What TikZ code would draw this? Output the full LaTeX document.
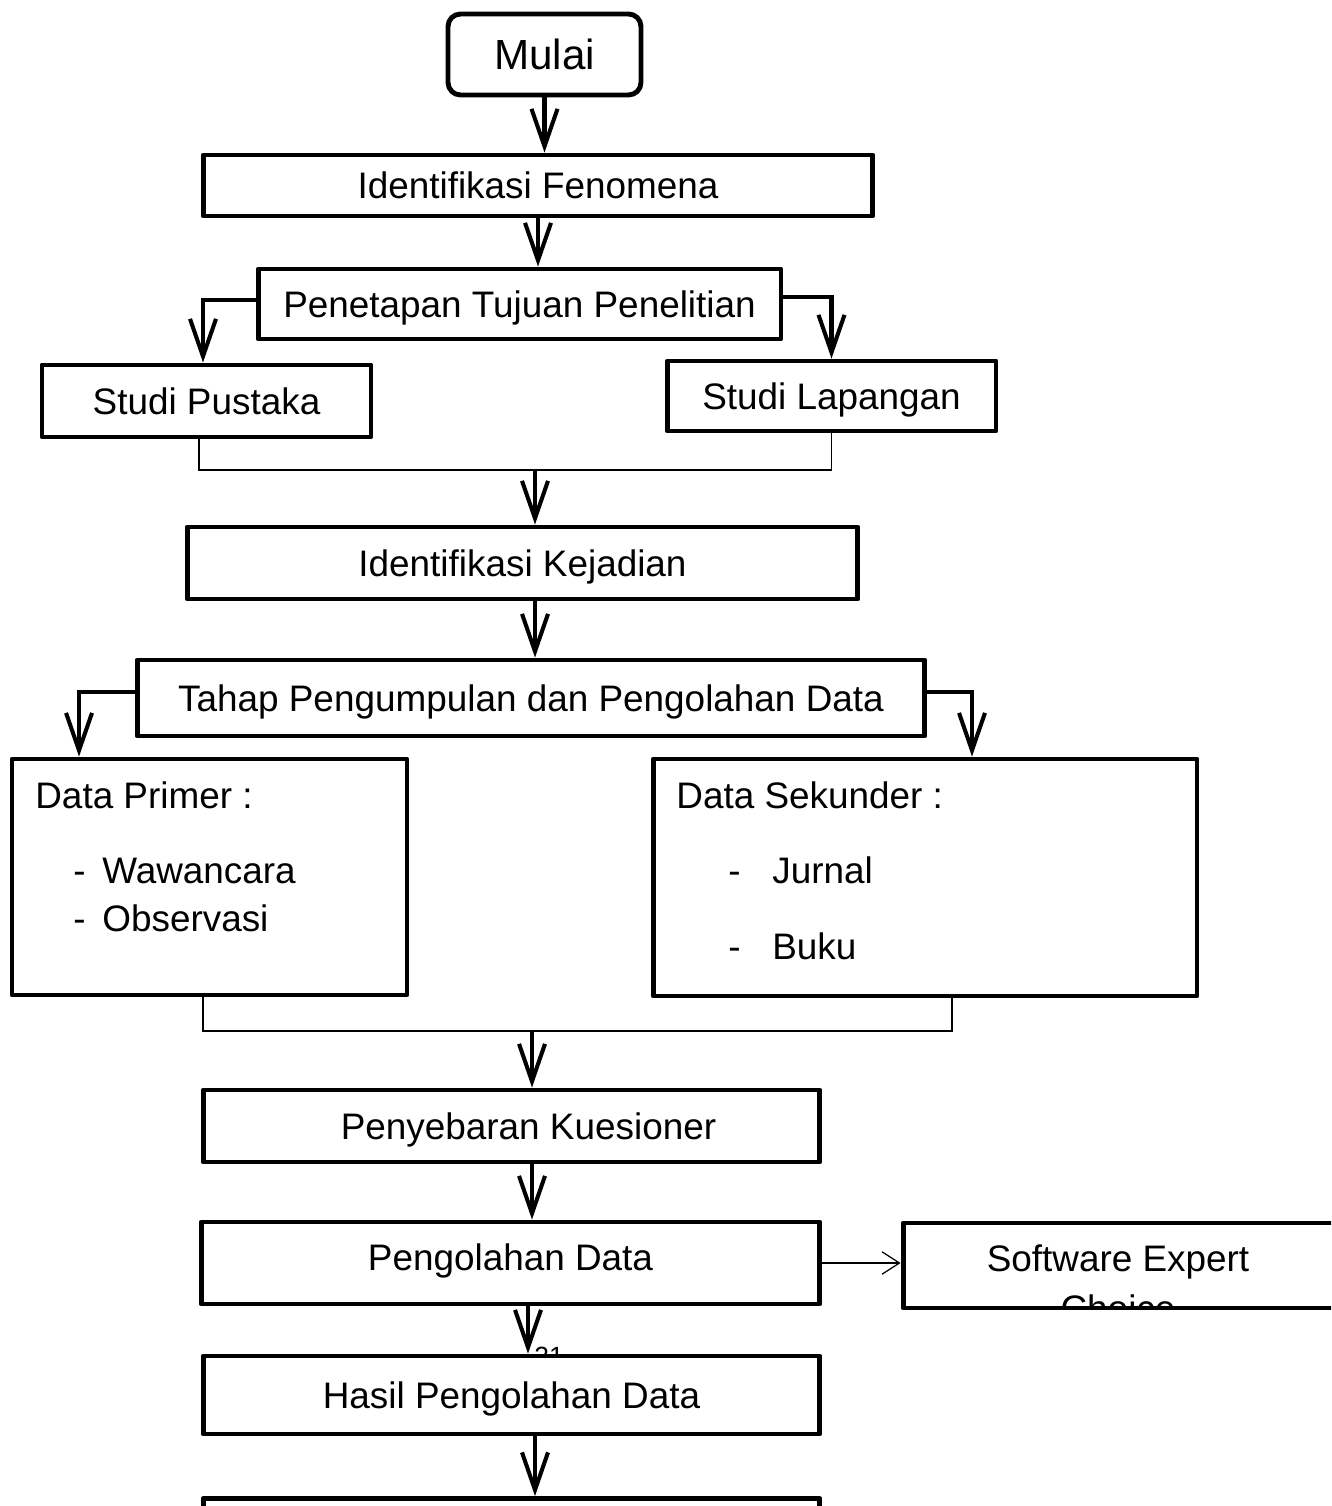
\documentclass[tikz,border=0pt]{standalone}
\usepackage{fontspec}
\setmainfont{Liberation Sans}
\usetikzlibrary{arrows.meta}

\begin{document}
\begin{tikzpicture}[
    x=0.02cm, y=-0.02cm,
    % Styles
    box/.style={
      rectangle,
      draw=black,
      fill=white,
      line width=2.8pt,
      line join=round,
      inner sep=0pt,
      text height=0.53cm,
      text depth=0pt,
      font=\fontsize{21pt}{25pt}\selectfont,
    },
    txt/.style={
      anchor=west,
      inner sep=0pt,
      text height=0.53cm,
      text depth=0pt,
      font=\fontsize{21pt}{25pt}\selectfont,
    },
    arr/.style={
      -{Straight Barb[length=0.75cm,width=0.52cm]},
      line width=2.3pt,
    },
    link/.style={line width=0.7pt},
    thinarr/.style={-{Straight Barb[length=0.35cm,width=0.45cm]}, line width=0.7pt},
  ]
  \useasboundingbox (0,0) rectangle (1331,1506);
  \clip (0,0) rectangle (1331,1506);
  \fill[white] (0,0) rectangle (1331,1506);

  \node[box, rounded corners=0.25cm, minimum width=3.86cm, minimum height=1.62cm, text height=0.6cm, font=\fontsize{24pt}{28pt}\selectfont] (mulai) at (544.5,54.5) {Mulai};
  \node[box, minimum width=13.4cm, minimum height=1.22cm] (fen) at (538,185.5) {Identifikasi Fenomena};
  \node[box, minimum width=10.46cm, minimum height=1.4cm] (tuj) at (519.5,304) {Penetapan Tujuan Penelitian};
  \node[box, minimum width=6.58cm, minimum height=1.44cm] (pus) at (206.5,401) {Studi Pustaka};
  \node[box, minimum width=6.58cm, minimum height=1.4cm] (lap) at (831.5,396) {Studi Lapangan};
  \node[box, minimum width=13.42cm, minimum height=1.44cm] (kej) at (522.5,563) {Identifikasi Kejadian};
  \node[box, minimum width=15.76cm, minimum height=1.52cm] (tahap) at (531,698) {Tahap Pengumpulan dan Pengolahan Data};
  \node[box, minimum width=7.9cm, minimum height=4.72cm] (prim) at (209.5,877) {};
  \node[box, minimum width=10.88cm, minimum height=4.74cm] (sek) at (925,877.5) {};

  % isi data
  \node[txt] (primt) at (35,795) {Data Primer :};
  \node[txt] (prima) at (73,870) {-};
  \node[txt] (primaw) at (102,870) {Wawancara};
  \node[txt] (primb) at (73,918) {-};
  \node[txt] (primbo) at (102,918) {Observasi};
  \node[txt] (sekt) at (676,795) {Data Sekunder :};
  \node[txt] (seka) at (728,870) {-};
  \node[txt] (sekaj) at (772,870) {Jurnal};
  \node[txt] (sekb) at (728,946) {-};
  \node[txt] (sekbb) at (772,946) {Buku};

  \node[box, minimum width=12.34cm, minimum height=1.44cm] (kue) at (511.5,1126) {\hspace*{0.68cm}Penyebaran Kuesioner};
  \node[box, minimum width=12.38cm, minimum height=1.64cm, text depth=0.24cm] (olah) at (510.5,1263) {Pengolahan Data};
  \node[box, minimum width=9.14cm, minimum height=1.7cm] (soft) at (1131.5,1265.5) {};
  \begin{scope}
    \clip (soft.north west) rectangle ([yshift=0.08cm]soft.south east);
    \node[txt, anchor=center] (softa) at (1118,1258) {Software Expert};
    \node[txt, anchor=center] (softb) at (1118,1308) {Choice};
  \end{scope}
  \node[txt, anchor=center, text height=0.38cm, font=\fontsize{15pt}{18pt}\selectfont] (page) at (549,1356) {21};
  \node[box, minimum width=12.34cm, minimum height=1.56cm] (hasil) at (511.5,1395) {Hasil Pengolahan Data};
  \node[box, minimum width=12.34cm, minimum height=1.5cm] (akhir) at (511.5,1536) {};

  % panah
  \draw[arr] (mulai.south) -- (mulai.south |- fen.north);
  \draw[arr] (fen.south) -- (fen.south |- tuj.north);
  \draw[arr] ([yshift=0.08cm]tuj.west) -| ([xshift=-0.07cm]pus.north);
  \draw[arr] ([yshift=0.14cm]tuj.east) -| (lap.north);
  \coordinate (j1) at (535,470);
  \draw[link] ([xshift=-0.15cm]pus.south) |- (j1) -| (lap.south);
  \draw[arr] (j1) -- (j1 |- kej.north);
  \draw[arr] (j1 |- kej.south) -- (j1 |- tahap.north);
  \draw[arr] ([yshift=0.12cm]tahap.west) -| ([xshift=-2.61cm]prim.north);
  \draw[arr] ([yshift=0.12cm]tahap.east) -| ([xshift=0.94cm]sek.north);
  \coordinate (j2) at (532,1031);
  \draw[link] ([xshift=-0.13cm]prim.south) |- (j2) -| ([xshift=0.54cm]sek.south);
  \draw[arr] (j2) -- (j2 |- kue.north);
  \draw[arr] (j2 |- kue.south) -- (j2 |- olah.north);
  \draw[thinarr] (olah.east) -- (olah.east -| soft.west);
  \draw[arr] ([xshift=0.35cm]olah.south) -- ([xshift=0.35cm]olah.south |- hasil.north);
  \draw[arr] ([xshift=0.47cm]hasil.south) -- ([xshift=0.47cm]hasil.south |- akhir.north);
\end{tikzpicture}
\end{document}
